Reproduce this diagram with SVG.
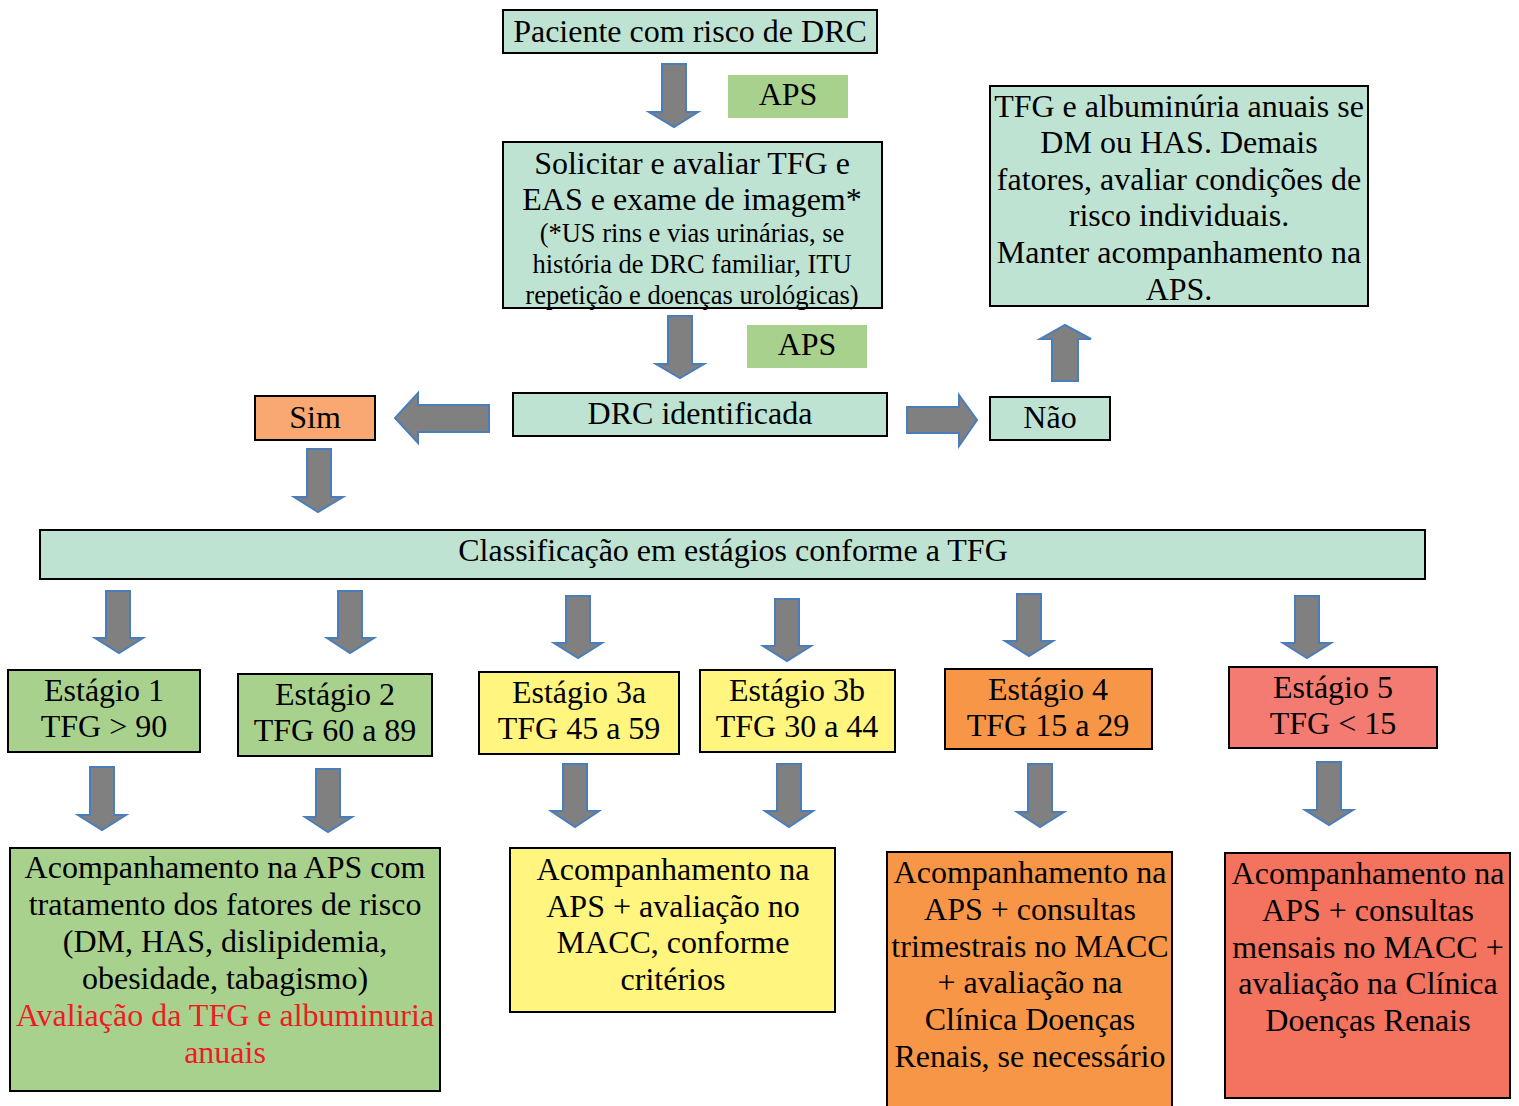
<svg xmlns="http://www.w3.org/2000/svg" width="1519" height="1106" viewBox="0 0 1519 1106">
<style>
  text { font-family: "Liberation Serif", "Times New Roman", serif; font-size: 32px; fill: #000; text-anchor: middle; }
  .sm { font-size: 26.5px; }
  .red { fill: #ED1C24; }
  .box { stroke: #000; stroke-width: 2; }
  .teal { fill: #BFE3D3; }
  .green { fill: #A9D18E; }
  .yellow { fill: #FFF57F; }
  .orange { fill: #F79646; }
  .peach { fill: #F8A870; }
  .salmon { fill: #F47B71; }
  .red2 { fill: #F3735E; }
  .arrow { fill: #808080; stroke: #4A7EBB; stroke-width: 2; stroke-linejoin: miter; }
</style>
<rect width="1519" height="1106" fill="#FFFFFF"/>

<g id="n_paciente">
  <rect class="box teal" x="503" y="10" width="374" height="43"/>
  <text x="690" y="42">Paciente com risco de DRC</text>
</g>
<g id="n_aps1">
  <rect class="green" x="728" y="75" width="120" height="43"/>
  <text x="788" y="105">APS</text>
</g>
<g id="n_solicitar">
  <rect class="box teal" x="503" y="142" width="379" height="166"/>
  <text x="692" y="174">Solicitar e avaliar TFG e</text>
  <text x="692" y="210">EAS e exame de imagem*</text>
  <text class="sm" x="692" y="242">(*US rins e vias urinárias, se</text>
  <text class="sm" x="692" y="273">história de DRC familiar, ITU</text>
  <text class="sm" x="692" y="304">repetição e doenças urológicas)</text>
</g>
<g id="n_aps2">
  <rect class="green" x="747" y="325" width="120" height="43"/>
  <text x="807" y="355">APS</text>
</g>
<g id="n_drc">
  <rect class="box teal" x="513" y="393" width="374" height="43"/>
  <text x="700" y="424">DRC identificada</text>
</g>
<g id="n_sim">
  <rect class="box peach" x="255" y="396" width="120" height="44"/>
  <text x="315" y="428">Sim</text>
</g>
<g id="n_nao">
  <rect class="box teal" x="990" y="397" width="120" height="43"/>
  <text x="1050" y="428">Não</text>
</g>
<g id="n_tfg_anual">
  <rect class="box teal" x="990" y="86" width="378" height="220"/>
  <text x="1179" y="117">TFG e albuminúria anuais se</text>
  <text x="1179" y="153">DM ou HAS. Demais</text>
  <text x="1179" y="190">fatores, avaliar condições de</text>
  <text x="1179" y="226">risco individuais.</text>
  <text x="1179" y="263">Manter acompanhamento na</text>
  <text x="1179" y="300">APS.</text>
</g>
<g id="n_classificacao">
  <rect class="box teal" x="40" y="530" width="1385" height="49"/>
  <text x="733" y="561">Classificação em estágios conforme a TFG</text>
</g>

<g id="n_e1">
  <rect class="box green" x="8" y="670" width="192" height="82"/>
  <text x="104" y="701">Estágio 1</text>
  <text x="104" y="737">TFG &gt; 90</text>
</g>
<g id="n_e2">
  <rect class="box green" x="238" y="674" width="194" height="82"/>
  <text x="335" y="705">Estágio 2</text>
  <text x="335" y="741">TFG 60 a 89</text>
</g>
<g id="n_e3a">
  <rect class="box yellow" x="479" y="672" width="200" height="82"/>
  <text x="579" y="703">Estágio 3a</text>
  <text x="579" y="739">TFG 45 a 59</text>
</g>
<g id="n_e3b">
  <rect class="box yellow" x="700" y="670" width="195" height="82"/>
  <text x="797" y="701">Estágio 3b</text>
  <text x="797" y="737">TFG 30 a 44</text>
</g>
<g id="n_e4">
  <rect class="box orange" x="945" y="669" width="207" height="80"/>
  <text x="1048" y="700">Estágio 4</text>
  <text x="1048" y="736">TFG 15 a 29</text>
</g>
<g id="n_e5">
  <rect class="box salmon" x="1229" y="667" width="208" height="81"/>
  <text x="1333" y="698">Estágio 5</text>
  <text x="1333" y="734">TFG &lt; 15</text>
</g>

<g id="n_acomp12">
  <rect class="box green" x="10" y="848" width="430" height="243"/>
  <text x="225" y="878">Acompanhamento na APS com</text>
  <text x="225" y="915">tratamento dos fatores de risco</text>
  <text x="225" y="952">(DM, HAS, dislipidemia,</text>
  <text x="225" y="989">obesidade, tabagismo)</text>
  <text class="red" x="225" y="1026">Avaliação da TFG e albuminuria</text>
  <text class="red" x="225" y="1063">anuais</text>
</g>
<g id="n_acomp3">
  <rect class="box yellow" x="510" y="848" width="325" height="164"/>
  <text x="673" y="880">Acompanhamento na</text>
  <text x="673" y="917">APS + avaliação no</text>
  <text x="673" y="953">MACC, conforme</text>
  <text x="673" y="990">critérios</text>
</g>
<g id="n_acomp4">
  <rect class="box orange" x="887" y="852" width="285" height="256"/>
  <text x="1030" y="883">Acompanhamento na</text>
  <text x="1030" y="920">APS + consultas</text>
  <text x="1030" y="957">trimestrais no MACC</text>
  <text x="1030" y="993">+ avaliação na</text>
  <text x="1030" y="1030">Clínica Doenças</text>
  <text x="1030" y="1067">Renais, se necessário</text>
</g>
<g id="n_acomp5">
  <rect class="box red2" x="1225" y="853" width="285" height="245"/>
  <text x="1368" y="884">Acompanhamento na</text>
  <text x="1368" y="921">APS + consultas</text>
  <text x="1368" y="958">mensais no MACC +</text>
  <text x="1368" y="994">avaliação na Clínica</text>
  <text x="1368" y="1031">Doenças Renais</text>
</g>

<g id="connectors">
  <polygon class="arrow" points="662,64 686,64 686,112 698,112 674,127 649,112 662,112"/>
  <polygon class="arrow" points="668,316 692,316 692,364 704,364 680,378 656,364 668,364"/>
  <polygon class="arrow" points="489,405 489,432 418,432 418,443 395,418 418,393 418,405"/>
  <polygon class="arrow" points="907,407 959,407 959,395 977,420 959,446 959,433 907,433"/>
  <polygon class="arrow" points="1052,381 1078,381 1078,339 1091,339 1065,325 1040,339 1052,339"/>
  <polygon class="arrow" points="307,449 331,449 331,497 343,497 318,512 294,497 307,497"/>

  <polygon class="arrow" points="106,591 130,591 130,638 143,638 119,653 95,638 106,638"/>
  <polygon class="arrow" points="338,591 362,591 362,638 374,638 350,653 327,638 338,638"/>
  <polygon class="arrow" points="566,596 590,596 590,643 602,643 578,658 554,643 566,643"/>
  <polygon class="arrow" points="775,599 799,599 799,646 811,646 787,661 763,646 775,646"/>
  <polygon class="arrow" points="1017,594 1041,594 1041,641 1053,641 1029,656 1005,641 1017,641"/>
  <polygon class="arrow" points="1295,596 1319,596 1319,643 1331,643 1307,658 1283,643 1295,643"/>

  <polygon class="arrow" points="90,767 114,767 114,815 126,815 102,830 78,815 90,815"/>
  <polygon class="arrow" points="316,769 340,769 340,817 352,817 328,832 305,817 316,817"/>
  <polygon class="arrow" points="563,764 587,764 587,811 599,811 575,827 551,811 563,811"/>
  <polygon class="arrow" points="777,764 801,764 801,811 813,811 789,827 765,811 777,811"/>
  <polygon class="arrow" points="1028,764 1052,764 1052,812 1064,812 1040,827 1017,812 1028,812"/>
  <polygon class="arrow" points="1317,762 1341,762 1341,810 1353,810 1329,825 1305,810 1317,810"/>
</g>
</svg>
